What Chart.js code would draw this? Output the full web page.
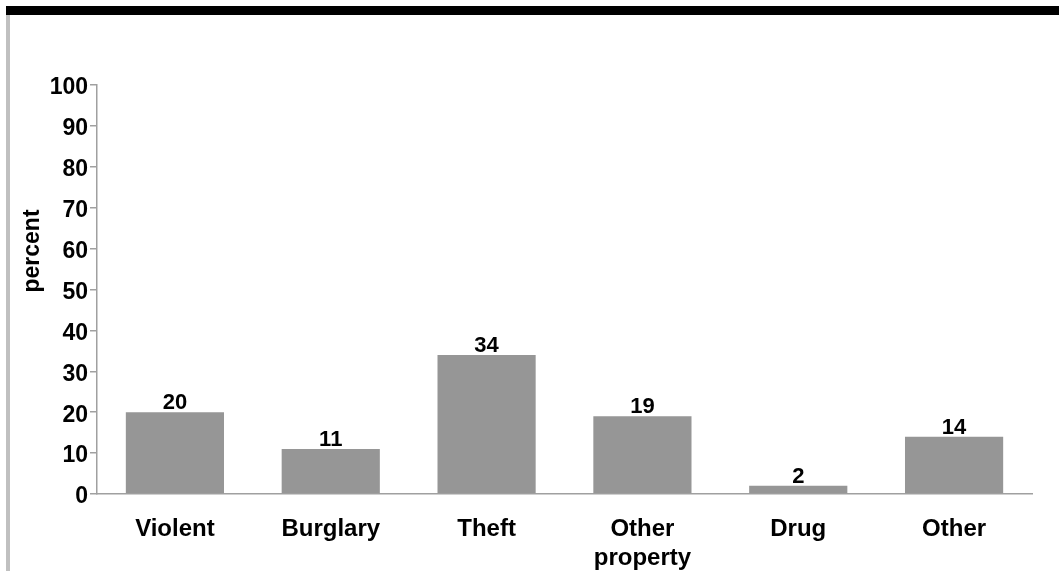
<!DOCTYPE html>
<html>
<head>
<meta charset="utf-8">
<script src="https://cdn.jsdelivr.net/npm/chart.js@4/dist/chart.umd.min.js"></script>
<style>
  html, body { margin: 0; padding: 0; background: #fff; }
  #wrap { position: relative; width: 1059px; height: 571px; overflow: hidden; }
  #topbar { position: absolute; left: 6px; top: 6px; width: 1053px; height: 9px; background: #000; }
  #sidebar { position: absolute; left: 6px; top: 15px; width: 4px; height: 556px; background: #c0c0c0; }
  #myChart { position: absolute; left: 0; top: 0; }
</style>
</head>
<body>
<div id="wrap">
  <div id="topbar"></div>
  <div id="sidebar"></div>
  <canvas id="myChart" width="1059" height="571"></canvas>
</div>
<script>
var categories = ['Violent', 'Burglary', 'Theft', ['Other', 'property'], 'Drug', 'Other'];
var percents = [20, 11, 34, 19, 2, 14];
var yTicks = [0, 10, 20, 30, 40, 50, 60, 70, 80, 90, 100];
var yTitle = 'percent';

var fontFamily = '"Liberation Sans", Arial, Helvetica, sans-serif';
var axisGray = '#a0a0a0';

// value above each bar, taken from the bar's own data
var barLabels = {
    id: 'barLabels',
    afterDatasetsDraw: function(chart) {
        var ctx = chart.ctx;
        var meta = chart.getDatasetMeta(0);
        ctx.save();
        ctx.font = 'bold 22px ' + fontFamily;
        ctx.fillStyle = '#000';
        ctx.textAlign = 'center';
        ctx.textBaseline = 'alphabetic';
        meta.data.forEach(function(bar, i) {
            ctx.fillText(String(chart.data.datasets[0].data[i]), bar.x, bar.y - 3);
        });
        ctx.restore();
    }
};

// rotated axis title, sits a bit above the middle of the axis
var sideTitle = {
    id: 'sideTitle',
    afterDraw: function(chart) {
        var ctx = chart.ctx;
        ctx.save();
        ctx.translate(33, 251);
        ctx.rotate(-Math.PI / 2);
        ctx.font = 'bold 23px ' + fontFamily;
        ctx.fillStyle = '#000';
        ctx.textAlign = 'center';
        ctx.textBaseline = 'middle';
        ctx.fillText(yTitle, 0, 0);
        ctx.restore();
    }
};

var ctx = document.getElementById('myChart').getContext('2d');
var myChart = new Chart(ctx, {
    type: 'bar',
    data: {
        labels: categories,
        datasets: [{
            label: yTitle,
            data: percents,
            backgroundColor: '#969696',
            borderWidth: 0,
            categoryPercentage: 1,
            barPercentage: 0.63
        }]
    },
    options: {
        responsive: false,
        animation: false,
        layout: {
            padding: { left: 0, right: 27, top: 85, bottom: 0 }
        },
        plugins: {
            legend: { display: false },
            tooltip: { enabled: false }
        },
        scales: {
            x: {
                grid: { display: false, drawTicks: false },
                border: { display: true, color: axisGray, width: 1.5 },
                ticks: {
                    color: '#000',
                    padding: 21,
                    maxRotation: 0,
                    autoSkip: false,
                    font: { family: fontFamily, size: 24, weight: 'bold', lineHeight: 1.2 }
                },
                afterFit: function(scale) { scale.height = 77; }
            },
            y: {
                min: 0,
                max: 100,
                afterBuildTicks: function(scale) {
                    scale.ticks = yTicks.map(function(v) { return { value: v }; });
                },
                grid: {
                    drawOnChartArea: false,
                    drawTicks: true,
                    tickLength: 7,
                    color: axisGray,
                    lineWidth: 1.5
                },
                border: { display: true, color: axisGray, width: 1.5 },
                ticks: {
                    color: '#000',
                    padding: 2,
                    labelOffset: 3,
                    font: { family: fontFamily, size: 23, weight: 'bold' }
                },
                afterFit: function(scale) { scale.width = 97; }
            }
        }
    },
    plugins: [barLabels, sideTitle]
});
</script>
</body>
</html>
